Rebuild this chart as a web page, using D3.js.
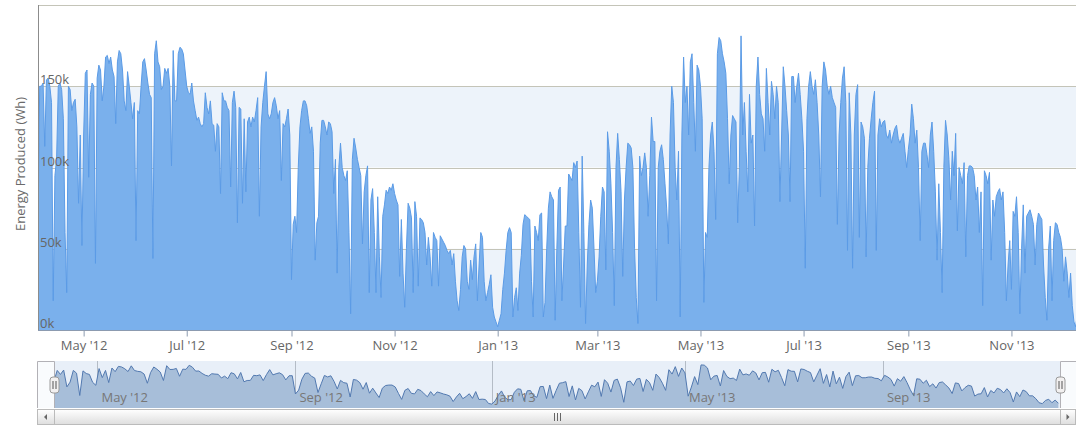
<!DOCTYPE html>
<html>
<head>
<meta charset="utf-8">
<script src="https://cdn.jsdelivr.net/npm/d3@7"></script>
<style>
  body { margin: 0; background: #fff; }
  svg { display: block; font-family: "Open Sans", "Noto Sans", sans-serif; }
</style>
</head>
<body>
<div id="chart"></div>
<script>
const width = 1076;
const height = 433;

// daily energy produced, in thousands of Wh, starting 4 Apr 2012
const apr2012 = [60,150,150,152,113,154,155,150,140,18,95,105,150,152,148,130,60,23,150,148,135,140,142,125,78,120,52];
const may2012 = [120,158,160,94,145,152,150,41,155,163,160,141,150,168,169,164,168,160,156,127,165,172,170,160,141,135,159,150,140,130,140];
const jun2012 = [55,135,133,150,165,167,160,152,145,143,44,170,178,165,162,148,150,161,158,161,150,101,172,141,141,170,174,173,170,160];
const jul2012 = [150,146,145,152,141,135,129,131,127,125,127,146,137,133,141,127,126,110,127,125,84,146,141,141,137,135,88,140,147,137,66];
const aug2012 = [137,136,78,130,85,128,131,125,131,128,135,143,70,125,140,150,159,133,130,133,140,143,138,130,135,92,127,125,130,136,120];
const sep2012 = [31,65,70,60,100,125,135,141,141,138,130,121,125,110,43,66,70,115,129,129,125,120,128,127,122,84,105,35,100,115];
const oct2012 = [100,95,92,98,60,10,105,118,112,105,100,95,53,85,95,101,23,80,87,60,23,82,45,20,70,77,86,84,88,86,90];
const nov2012 = [84,80,77,33,68,35,14,50,78,75,69,23,79,70,27,69,68,66,60,40,57,45,27,60,57,55,27,58,56,54];
const dec2012 = [52,49,47,49,40,47,30,18,12,25,45,52,50,30,25,43,31,45,53,18,40,60,57,30,18,23,28,34,14,8,5];
const jan2013 = [2,6,10,25,35,49,60,63,60,8,20,26,12,35,46,65,71,70,69,68,30,8,64,60,55,71,72,8,17,50,75];
const feb2013 = [85,82,80,6,50,86,88,18,40,64,64,96,94,92,103,100,104,60,14,107,60,4,40,65,80,75,50,23];
const mar2013 = [30,45,70,88,85,37,122,110,90,60,15,100,121,105,85,33,80,100,115,114,112,100,50,20,4,107,95,100,109,100,70];
const apr2013 = [95,131,116,116,18,100,110,114,105,90,75,53,120,150,140,100,80,110,8,120,168,140,150,120,165,170,140,110,163,160];
const may2013 = [150,130,17,60,57,100,120,128,110,68,170,180,178,170,165,158,130,90,120,132,130,128,66,100,181,120,140,110,85,145,115];
const jun2013 = [120,64,150,168,145,133,130,110,161,140,120,153,145,130,150,140,79,120,162,150,135,120,79,156,156,140,150,158,145,130];
const jul2013 = [110,38,130,150,159,150,145,154,140,120,82,150,165,160,150,145,150,143,140,137,65,120,140,155,162,140,49,146,120,38,120];
const aug2013 = [145,151,57,128,125,118,45,100,118,130,140,147,49,120,130,125,128,129,120,118,123,115,120,124,126,118,115,118,121,110,100];
const sep2013 = [111,120,139,130,115,123,100,55,110,115,115,108,100,120,128,110,85,43,90,60,23,100,129,120,105,80,110,95,121,61];
const oct2013 = [100,95,90,103,45,95,101,101,100,95,80,88,60,85,15,98,95,90,97,43,80,70,82,85,87,80,85,60,18,40,55];
const nov2013 = [25,73,70,82,60,10,50,77,35,70,72,74,70,65,40,65,72,70,68,40,20,6,50,64,18,55,66,65,60,57];
const dec2013 = [50,30,45,35,20,35,15,5,2,10,25,15,30,20,8,12,25,18,10,5];

const yTicks = [0, 50000, 100000, 150000, 200000];
const startDate = Date.UTC(2012, 3, 4);

const data = [
  apr2012, may2012, jun2012, jul2012, aug2012, sep2012, oct2012, nov2012, dec2012,
  jan2013, feb2013, mar2013, apr2013, may2013, jun2013, jul2013, aug2013, sep2013,
  oct2013, nov2013, dec2013
].flat().map((v, i) => ({ date: new Date(startDate + i * 864e5), value: v * 1000 }));

const fmt = d3.utcFormat("%b '%y");

const svg = d3.select("#chart").append("svg")
  .attr("width", width)
  .attr("height", height);

// ---- main chart ----
const plot = { left: 38, top: 5, bottom: 330, right: width };

const x = d3.scaleUtc()
  .domain(d3.extent(data, d => d.date))
  .range([plot.left, plot.left + (data.length - 1) * 1.69]);

const y = d3.scaleLinear()
  .domain([0, 200000])
  .range([plot.bottom, plot.top]);

// alternate grid bands
svg.append("g").selectAll("rect")
  .data([[0, 50000], [100000, 150000]])
  .join("rect")
  .attr("x", plot.left)
  .attr("width", plot.right - plot.left)
  .attr("y", d => y(d[1]))
  .attr("height", d => y(d[0]) - y(d[1]))
  .attr("fill", "#edf3fa");

svg.append("g").selectAll("line")
  .data(yTicks.slice(1))
  .join("line")
  .attr("x1", plot.left)
  .attr("x2", plot.right)
  .attr("y1", d => Math.round(y(d)) + 0.5)
  .attr("y2", d => Math.round(y(d)) + 0.5)
  .attr("stroke", "#c4c4b8");

svg.append("clipPath").attr("id", "clip")
  .append("rect")
  .attr("x", plot.left)
  .attr("y", 0)
  .attr("width", plot.right - plot.left)
  .attr("height", plot.bottom);

const area = d3.area()
  .x(d => x(d.date))
  .y0(y(0))
  .y1(d => y(d.value));

const line = d3.line()
  .x(d => x(d.date))
  .y(d => y(d.value));

const series = svg.append("g").attr("clip-path", "url(#clip)");
series.append("path")
  .datum(data)
  .attr("d", area)
  .attr("fill", "#7ab0ec");
series.append("path")
  .datum(data)
  .attr("d", line)
  .attr("fill", "none")
  .attr("stroke", "#5b9be6")
  .attr("stroke-width", 1)
  .attr("stroke-linejoin", "round");

// axes lines
svg.append("line")
  .attr("x1", plot.left + 0.5).attr("x2", plot.left + 0.5)
  .attr("y1", plot.top).attr("y2", plot.bottom)
  .attr("stroke", "#8c8c8c");

const xAxis = svg.append("g")
  .attr("transform", `translate(0,${plot.bottom + 0.5})`)
  .call(d3.axisBottom(x)
    .ticks(d3.utcMonth.every(2))
    .tickFormat(fmt)
    .tickSize(6)
    .tickSizeOuter(0)
    .tickPadding(4));
xAxis.select(".domain")
  .attr("d", `M${plot.left},0H${plot.right}`)
  .attr("stroke", "#8c9bb0");
xAxis.selectAll(".tick line").attr("stroke", "#8c9bb0");
xAxis.selectAll(".tick text")
  .attr("fill", "#666")
  .style("font-size", "13px")
  .style("font-family", "'Open Sans', sans-serif");

svg.append("g").selectAll("text")
  .data(yTicks.slice(0, 4))
  .join("text")
  .attr("x", plot.left + 2)
  .attr("y", d => y(d) - 2)
  .attr("fill", "#666")
  .style("font-size", "13px")
  .text(d => d3.format("d")(d / 1000) + "k");

svg.append("text")
  .attr("transform", "translate(25,164) rotate(-90)")
  .attr("text-anchor", "middle")
  .attr("fill", "#6a6a6a")
  .style("font-size", "13px")
  .text("Energy Produced (Wh)");

// ---- navigator ----
const nav = { left: 37, right: width, top: 361, bottom: 408 };

const xn = d3.scaleUtc()
  .domain(d3.extent(data, d => d.date))
  .range([54, 1060]);

// navigator shows the series grouped into 2-day averages
const grouped = d3.groups(data, (d, i) => Math.floor(i / 2))
  .map(([, v]) => ({ date: v[0].date, value: d3.mean(v, d => d.value) }));

const gExt = d3.extent(grouped, d => d.value);
const gPad = (gExt[1] - gExt[0]) * 0.1;
const yn = d3.scaleLinear()
  .domain([gExt[0] - gPad, gExt[1] + gPad])
  .range([nav.bottom, nav.top]);

svg.append("rect")
  .attr("x", nav.left).attr("y", nav.top)
  .attr("width", nav.right - nav.left).attr("height", nav.bottom - nav.top)
  .attr("fill", "#e8eff8");

svg.append("g").selectAll("line")
  .data(xn.ticks(d3.utcMonth.every(4)))
  .join("line")
  .attr("x1", d => Math.round(xn(d)) + 0.5)
  .attr("x2", d => Math.round(xn(d)) + 0.5)
  .attr("y1", nav.top)
  .attr("y2", nav.bottom)
  .attr("stroke", "#b4bcc6");

svg.append("path")
  .datum(grouped)
  .attr("d", d3.area().x(d => xn(d.date)).y0(nav.bottom).y1(d => yn(d.value)))
  .attr("fill", "#a7bed9");
svg.append("path")
  .datum(grouped)
  .attr("d", d3.line().x(d => xn(d.date)).y(d => yn(d.value)))
  .attr("fill", "none")
  .attr("stroke", "#5279b0")
  .attr("stroke-width", 1);

svg.append("g").selectAll("text")
  .data(xn.ticks(d3.utcMonth.every(4)))
  .join("text")
  .attr("x", d => xn(d) + 4)
  .attr("y", 402)
  .attr("fill", "#777")
  .style("font-size", "13px")
  .text(fmt);

// masks outside the selection
const selLeft = xn.range()[0], selRight = xn.range()[1];
svg.append("g").selectAll("rect")
  .data([[nav.left, selLeft], [selRight, nav.right]])
  .join("rect")
  .attr("x", d => d[0]).attr("width", d => d[1] - d[0])
  .attr("y", nav.top).attr("height", nav.bottom - nav.top)
  .attr("fill", "rgba(255,255,255,0.75)");

svg.append("path")
  .attr("d", `M${nav.left + 0.5},${nav.bottom}V${nav.top + 0.5}H${selLeft + 0.5}V${nav.bottom}` +
             `M${selRight + 0.5},${nav.bottom}V${nav.top + 0.5}H${nav.right}`)
  .attr("fill", "none")
  .attr("stroke", "#b2b1b6");

// handles
const handles = svg.append("g").selectAll("g")
  .data([selLeft, selRight])
  .join("g")
  .attr("transform", d => `translate(${d + 0.5},377)`);
handles.append("rect")
  .attr("x", -4.5).attr("y", 0)
  .attr("width", 9).attr("height", 16)
  .attr("rx", 3)
  .attr("fill", "#f2f0f0")
  .attr("stroke", "#9a9a9a");
handles.selectAll("line")
  .data([-1.5, 1.5])
  .join("line")
  .attr("x1", d => d).attr("x2", d => d)
  .attr("y1", 4).attr("y2", 12)
  .attr("stroke", "#555");

// scrollbar
const defs = svg.append("defs");
const grad = defs.append("linearGradient").attr("id", "sb").attr("x1", 0).attr("x2", 0).attr("y1", 0).attr("y2", 1);
grad.append("stop").attr("offset", 0).attr("stop-color", "#ffffff");
grad.append("stop").attr("offset", 1).attr("stop-color", "#dedede");

const sb = { top: 409.5, h: 15 };
svg.append("rect")
  .attr("x", nav.left + 0.5).attr("y", sb.top)
  .attr("width", nav.right - nav.left).attr("height", sb.h)
  .attr("fill", "#eeeeee").attr("stroke", "#bbbbbb");
svg.append("rect")
  .attr("x", selLeft + 0.5).attr("y", sb.top)
  .attr("width", selRight - selLeft).attr("height", sb.h)
  .attr("fill", "url(#sb)").attr("stroke", "#bbbbbb");
svg.append("g").selectAll("rect")
  .data([[nav.left, selLeft], [selRight, nav.right - 1]])
  .join("rect")
  .attr("x", d => d[0] + 0.5).attr("y", sb.top)
  .attr("width", d => d[1] - d[0]).attr("height", sb.h)
  .attr("fill", "url(#sb)").attr("stroke", "#bbbbbb");

const midY = sb.top + sb.h / 2;
svg.append("path")
  .attr("d", `M${(nav.left + selLeft) / 2 + 1.5},${midY - 3}L${(nav.left + selLeft) / 2 - 1.5},${midY}L${(nav.left + selLeft) / 2 + 1.5},${midY + 3}Z`)
  .attr("fill", "#666");
svg.append("path")
  .attr("d", `M${(selRight + nav.right) / 2 - 1.5},${midY - 3}L${(selRight + nav.right) / 2 + 1.5},${midY}L${(selRight + nav.right) / 2 - 1.5},${midY + 3}Z`)
  .attr("fill", "#666");

const gripX = (selLeft + selRight) / 2;
svg.append("g").selectAll("line")
  .data([-3, 0, 3])
  .join("line")
  .attr("x1", d => Math.round(gripX + d) + 0.5)
  .attr("x2", d => Math.round(gripX + d) + 0.5)
  .attr("y1", midY - 4).attr("y2", midY + 4)
  .attr("stroke", "#666");
</script>
</body>
</html>
